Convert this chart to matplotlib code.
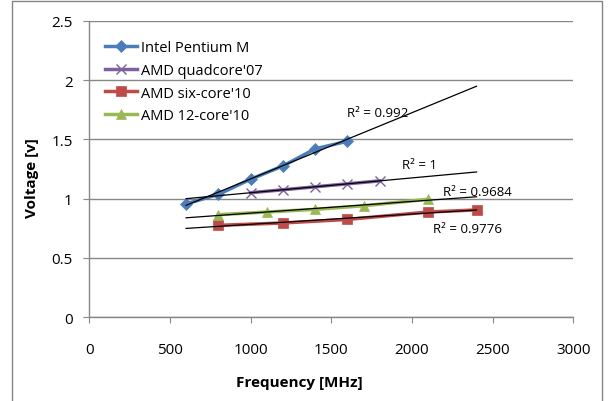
import numpy as np
import matplotlib
matplotlib.use("Agg")
import matplotlib.pyplot as plt
from matplotlib.patches import Rectangle

plt.rcParams['font.family'] = ['Open Sans', 'DejaVu Sans']

# data
intel_f = [600, 800, 1000, 1200, 1400, 1600]
intel_v = [0.956, 1.036, 1.164, 1.276, 1.420, 1.484]

quad_f = [1000, 1200, 1400, 1600, 1800]
quad_v = [1.05, 1.075, 1.1, 1.125, 1.15]

six_f = [800, 1200, 1600, 2100, 2400]
six_v = [0.775, 0.795, 0.825, 0.8875, 0.905]

twelve_f = [800, 1100, 1400, 1700, 2100]
twelve_v = [0.865, 0.8875, 0.91, 0.94, 0.995]

names = ["Intel Pentium M", "AMD quadcore'07", "AMD six-core'10", "AMD 12-core'10"]
r2_text = ["R² = 0.992", "R² = 1", "R² = 0.9776", "R² = 0.9684"]
r2_pos = [(1600, 1.73), (1935, 1.285), (2130, 0.745), (2190, 1.06)]

trend_span = (600, 2400)

xticks = [0, 500, 1000, 1500, 2000, 2500, 3000]
yticks = [0, 0.5, 1, 1.5, 2, 2.5]

def main():
    fig = plt.figure(figsize=(6.13, 4.02), dpi=100)
    ax = fig.add_axes([0.1457, 0.2082, 0.7896, 0.7378])

    series = [
        (intel_f, intel_v, '#4A7EBB', 'D', 6, 2.5),
        (quad_f, quad_v, '#7D60A0', 'x', 7, 2.5),
        (six_f, six_v, '#BE4B48', 's', 7.5, 2.5),
        (twelve_f, twelve_v, '#98B954', '^', 7.5, 2.5),
    ]
    for (f, v, c, m, ms, lw), name in zip(series, names):
        mew = 1.0 if m == 'x' else 0.5
        ax.plot(f, v, color=c, lw=lw, marker=m, ms=ms, mfc=c, mec=c,
                mew=mew, label=name, zorder=3)

    # linear trendlines
    tx = np.array(trend_span, dtype=float)
    for f, v, *_ in series:
        k, b = np.polyfit(f, v, 1)
        ax.plot(tx, k * tx + b, color='black', lw=0.9, zorder=4)

    for txt, (x, y) in zip(r2_text, r2_pos):
        ax.text(x, y, txt, fontsize=9.5, ha='left', va='center', color='black')

    ax.set_xlim(0, 3000)
    ax.set_ylim(0, 2.5)
    ax.set_xticks(xticks)
    ax.set_yticks(yticks)
    ax.set_yticklabels(['0', '0.5', '1', '1.5', '2', '2.5'])
    ax.grid(axis='y', color='#878787', lw=1)
    ax.set_axisbelow(True)
    for s in ['top', 'right']:
        ax.spines[s].set_visible(False)
    for s in ['left', 'bottom']:
        ax.spines[s].set_color('#878787')
        ax.spines[s].set_linewidth(1)
    ax.tick_params(axis='both', colors='#878787', labelcolor='black',
                   labelsize=11, direction='out', length=4)
    ax.tick_params(axis='x', pad=14)
    ax.tick_params(axis='y', pad=8)

    fig.text(0.489, 0.047, 'Frequency [MHz]', fontsize=11, fontweight='bold',
             ha='center', va='center')
    fig.text(0.052, 0.558, 'Voltage [v]', fontsize=11, fontweight='bold',
             ha='center', va='center', rotation=90)

    ax.legend(loc='upper left', bbox_to_anchor=(0.171, 0.897),
              bbox_transform=fig.transFigure, frameon=False, fontsize=10.5,
              handlelength=2.2, handletextpad=0.3, labelspacing=0.52,
              borderpad=0, borderaxespad=0)

    # chart border
    fig.patches.append(Rectangle((12 / 613, -0.05), 590 / 613, 1.045,
                                 transform=fig.transFigure, fill=False,
                                 edgecolor='#868686', lw=1))

    fig.savefig('out.png', dpi=100)

main()
